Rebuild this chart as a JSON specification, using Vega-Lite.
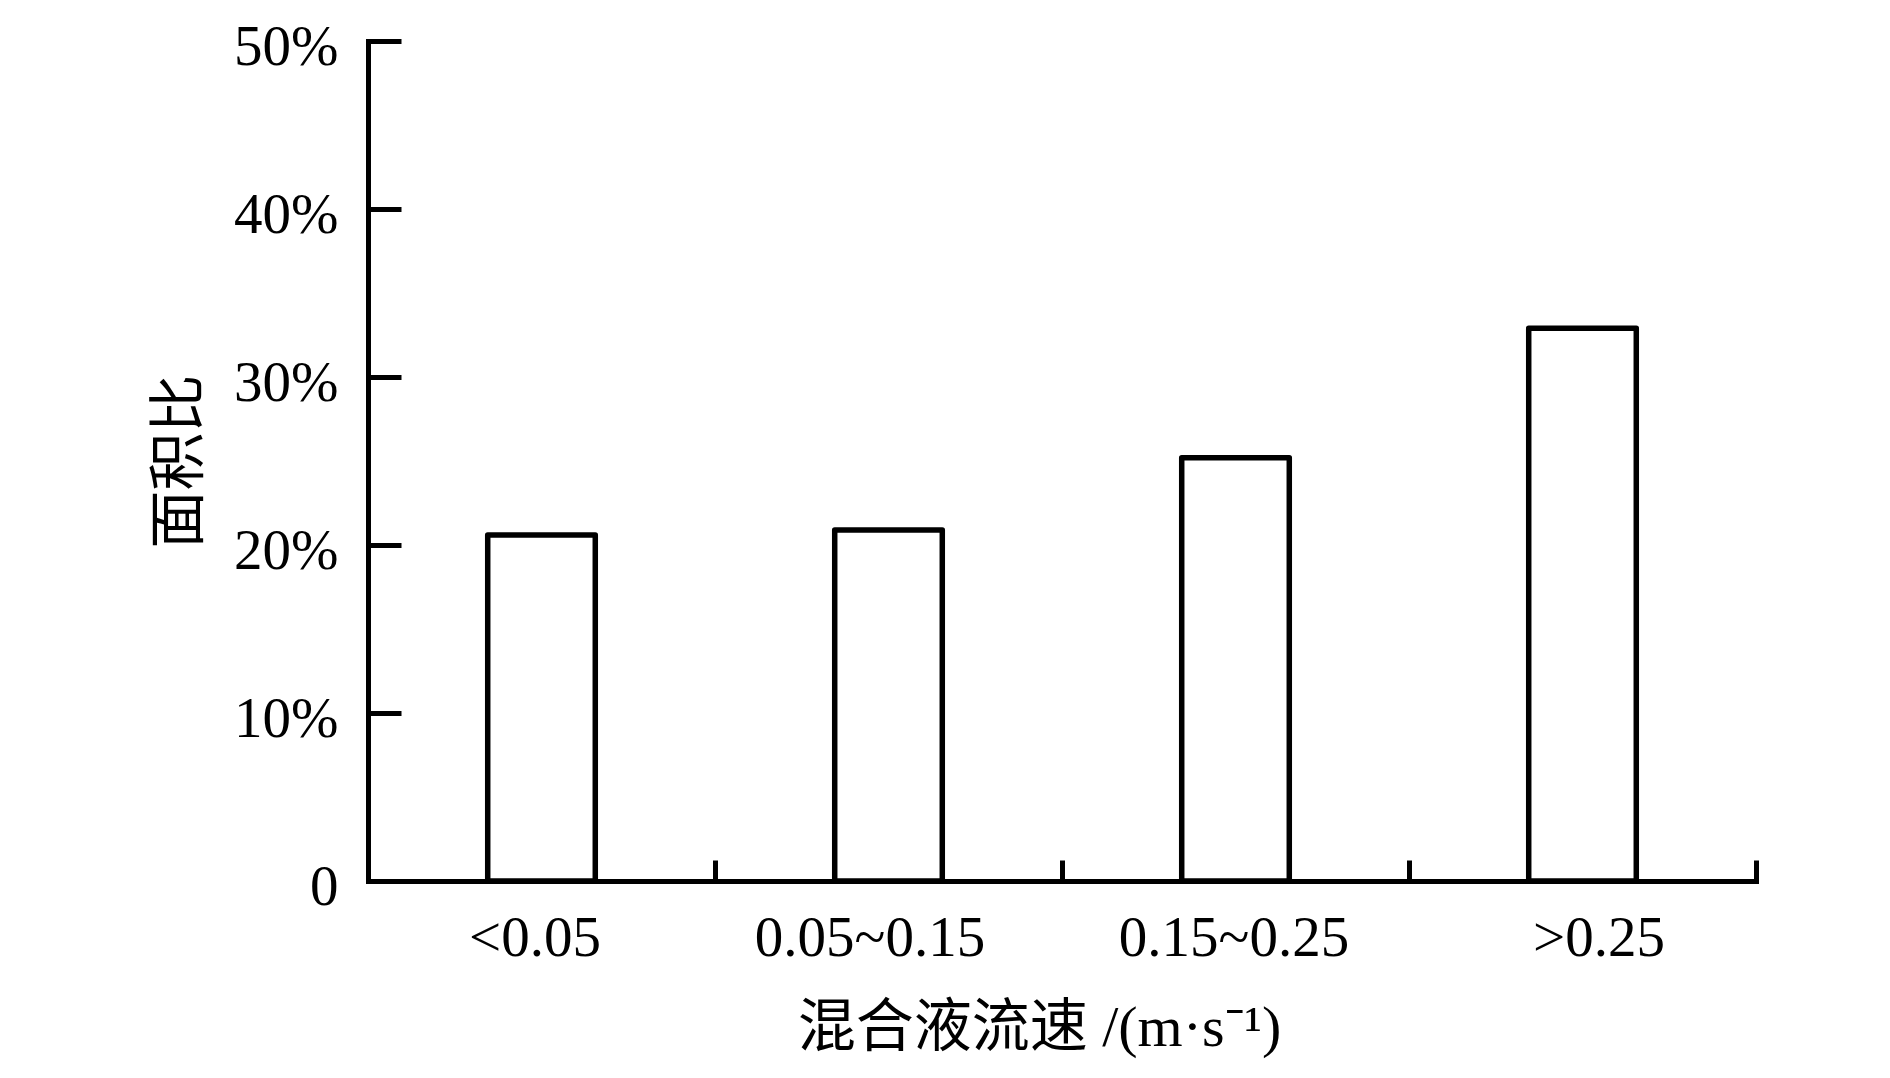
{
  "$schema": "https://vega.github.io/schema/vega-lite/v6.json",
  "autosize": {"type": "none"},
  "padding": {"left": 368, "top": 41, "right": 134, "bottom": 197},
  "width": 1388,
  "height": 840,
  "background": "white",
  "data": {
    "values": [
      {"range": "<0.05", "ratio": 20.6},
      {"range": "0.05~0.15", "ratio": 20.9},
      {"range": "0.15~0.25", "ratio": 25.2},
      {"range": ">0.25", "ratio": 32.9}
    ]
  },
  "mark": {"type": "bar", "fill": "white", "stroke": "black", "strokeWidth": 5.5, "strokeJoin": "round", "cornerRadius": 0},
  "encoding": {
    "x": {
      "field": "range",
      "type": "nominal",
      "sort": null,
      "scale": {"paddingInner": 0.69, "paddingOuter": 0.345},
      "axis": {
        "title": "混合液流速 /(m·s⁻¹)",
        "labelAngle": 0,
        "labelLimit": 0,
        "ticks": true,
        "tickOffset": 173.5,
        "labelOffset": {
          "condition": [
            {"test": "datum.value === '<0.05'", "value": -180.5},
            {"test": "datum.value === '0.05~0.15'", "value": -192.5},
            {"test": "datum.value === '>0.25'", "value": -157.5}
          ],
          "value": -175.5
        },
        "tickSize": -21,
        "tickWidth": 5,
        "domainWidth": 5,
        "domainCap": "square",
        "labelPadding": 95,
        "labelBaseline": "alphabetic",
        "labelFont": "Liberation Serif",
        "labelFontSize": 57,
        "titleFont": "Liberation Serif, Noto Sans CJK SC",
        "titleFontSize": 58,
        "titleFontWeight": "normal",
        "titleX": 671,
        "titleY": 164,
        "titleAlign": "center",
        "titleBaseline": "alphabetic"
      }
    },
    "y": {
      "field": "ratio",
      "type": "quantitative",
      "scale": {"domain": [0, 50], "nice": false},
      "axis": {
        "title": "面积比",
        "values": [0, 10, 20, 30, 40, 50],
        "labelExpr": "datum.value === 0 ? '0' : datum.value + '%'",
        "grid": false,
        "ticks": true,
        "tickSize": -33,
        "tickWidth": 5,
        "domainWidth": 5,
        "domainCap": "square",
        "labelPadding": 63,
        "labelBaseline": "middle",
        "labelOffset": 6,
        "labelFont": "Liberation Serif",
        "labelFontSize": 57,
        "titleFont": "Liberation Serif, Noto Sans CJK SC",
        "titleFontSize": 58,
        "titleFontWeight": "normal",
        "titleAngle": -90,
        "titleX": -188,
        "titleY": 420,
        "titleAlign": "center",
        "titleBaseline": "middle"
      }
    }
  },
  "config": {
    "view": {"stroke": null},
    "axis": {
      "domainColor": "black",
      "tickColor": "black",
      "labelColor": "black",
      "titleColor": "black",
      "grid": false
    }
  }
}
